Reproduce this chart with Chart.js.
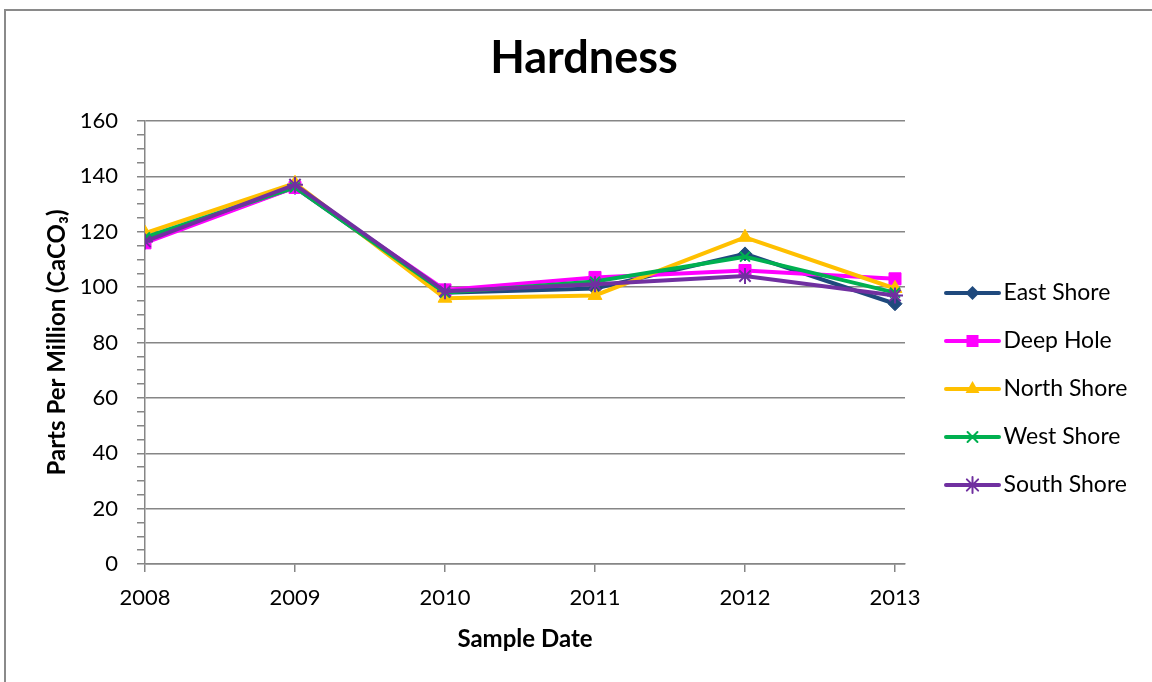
<!DOCTYPE html>
<html>
<head>
<meta charset="utf-8">
<title>Hardness</title>
<script src="https://cdn.jsdelivr.net/npm/chart.js@4.4.1/dist/chart.umd.min.js"></script>
<style>
  html, body { margin: 0; padding: 0; background: #ffffff; overflow: hidden; }
  #wrap { position: relative; width: 1152px; height: 682px; }
  #frame {
    position: absolute; left: 4px; top: 9px; width: 1300px; height: 800px;
    border-left: 2px solid #8a8a8a; border-top: 2px solid #8a8a8a;
    pointer-events: none;
  }
  canvas { display: block; }
</style>
</head>
<body>
<div id="wrap">
  <canvas id="chart" width="1152" height="682"></canvas>
  <div id="frame"></div>
</div>
<script>
// Sample years along the x axis
const years = ['2008', '2009', '2010', '2011', '2012', '2013'];

// Hardness readings, parts per million as CaCO3
const eastShore  = [117, 136, 98, 99.5, 112, 94];
const deepHole   = [116, 136, 99, 103.5, 106, 103];
const northShore = [119.5, 137.5, 96, 97, 118, 99.5];
const westShore  = [118, 136, 98, 102, 111, 98];
const southShore = [116.5, 137, 98.5, 101, 104, 97];

// Labelled y ticks and the minor tick step between them
const yMajorTicks = [0, 20, 40, 60, 80, 100, 120, 140, 160];
const yMinorStep = 5;

const FONT = 'Lato, "Open Sans", sans-serif';
const GRID = '#868686';
const LEGEND_FONT_SIZE = 23;
const LEGEND_PAD = 25;
const LEGEND_BOX = 62;

const series = [
  { label: 'East Shore',  data: eastShore,  color: '#1F497D', style: 'rectRot',  radius: 7 },
  { label: 'Deep Hole',   data: deepHole,   color: '#FF00FF', style: 'rect',     radius: 8.5 },
  { label: 'North Shore', data: northShore, color: '#FFC000', style: 'triangle', radius: 8 },
  { label: 'West Shore',  data: westShore,  color: '#00B050', style: 'crossRot', radius: 7 },
  { label: 'South Shore', data: southShore, color: '#7030A0', style: 'star',     radius: 8 }
];

// Marker path used for the legend icons
function drawMarker(ctx, style, x, y, r, color) {
  ctx.save();
  ctx.fillStyle = color;
  ctx.strokeStyle = color;
  ctx.lineWidth = 2;
  ctx.beginPath();
  if (style === 'rectRot') {
    ctx.moveTo(x, y - r); ctx.lineTo(x + r, y); ctx.lineTo(x, y + r); ctx.lineTo(x - r, y);
    ctx.closePath(); ctx.fill();
  } else if (style === 'rect') {
    const s = r * Math.SQRT1_2;
    ctx.rect(x - s, y - s, 2 * s, 2 * s); ctx.fill();
  } else if (style === 'triangle') {
    ctx.moveTo(x, y - r); ctx.lineTo(x + r * 0.87, y + r * 0.5); ctx.lineTo(x - r * 0.87, y + r * 0.5);
    ctx.closePath(); ctx.fill();
  } else if (style === 'crossRot') {
    const s = r * Math.SQRT1_2;
    ctx.moveTo(x - s, y - s); ctx.lineTo(x + s, y + s);
    ctx.moveTo(x + s, y - s); ctx.lineTo(x - s, y + s);
    ctx.stroke();
  } else if (style === 'star') {
    const s = r * Math.SQRT1_2;
    ctx.moveTo(x - s, y - s); ctx.lineTo(x + s, y + s);
    ctx.moveTo(x + s, y - s); ctx.lineTo(x - s, y + s);
    ctx.moveTo(x, y - r); ctx.lineTo(x, y + r);
    ctx.stroke();
  }
  ctx.restore();
}

// Legend icon: a short line segment with the series marker in its middle
function legendIcon(s) {
  const c = document.createElement('canvas');
  c.width = 80; c.height = 22;
  const ctx = c.getContext('2d');
  ctx.strokeStyle = s.color;
  ctx.lineWidth = 4;
  ctx.lineCap = 'round';
  ctx.beginPath();
  ctx.moveTo(25, 11); ctx.lineTo(78, 11);
  ctx.stroke();
  drawMarker(ctx, s.style, 51.5, 11, s.radius, s.color);
  return c;
}
const legendIcons = series.map(legendIcon);

// Room to the right so the plot ends where the legend column begins
const measure = document.createElement('canvas').getContext('2d');
measure.font = LEGEND_FONT_SIZE + 'px ' + FONT;
const maxLabelWidth = Math.max(...series.map(s => measure.measureText(s.label).width));
const legendWidth = LEGEND_PAD + LEGEND_BOX + LEGEND_FONT_SIZE / 2 + maxLabelWidth + 10;
const PLOT_LEFT = 145, PLOT_RIGHT = 905;
const padRight = Math.max(0, 1152 - PLOT_RIGHT - legendWidth);
const padLeft = 16 + padRight;

// The horizontal grid runs a little past the last sample year
const xOverhang = 1 / 15;

const yTicks = [];
for (let v = yMajorTicks[0]; v <= yMajorTicks[yMajorTicks.length - 1]; v += yMinorStep) yTicks.push(v);

const datasets = series.map((s, i) => ({
  label: s.label,
  data: s.data.map((v, k) => ({ x: k, y: v })),
  borderColor: s.color,
  backgroundColor: s.color,
  borderWidth: 4,
  pointStyle: s.style,
  pointRadius: s.radius,
  pointHoverRadius: s.radius,
  pointBorderWidth: (s.style === 'crossRot' || s.style === 'star') ? 2 : 1,
  pointBackgroundColor: s.color,
  pointBorderColor: s.color,
  tension: 0,
  fill: false,
  order: series.length - i
}));

new Chart(document.getElementById('chart'), {
  type: 'line',
  data: { datasets },
  options: {
    responsive: false,
    animation: false,
    devicePixelRatio: 1,
    layout: { padding: { left: padLeft, right: padRight, top: 0, bottom: 0 } },
    plugins: {
      tooltip: { enabled: false },
      title: {
        display: true,
        text: 'Hardness',
        color: '#000000',
        font: { family: FONT, size: 45, weight: 'bold', lineHeight: 1.2 },
        padding: { top: 31, bottom: 36 }
      },
      legend: {
        position: 'right',
        align: 'center',
        fullSize: false,
        title: { display: true, text: ' ', padding: 0, font: { size: 10, lineHeight: '93px' } },
        labels: {
          usePointStyle: true,
          pointStyleWidth: LEGEND_BOX,
          padding: LEGEND_PAD,
          color: '#000000',
          font: { family: FONT, size: LEGEND_FONT_SIZE },
          sort: (a, b) => a.datasetIndex - b.datasetIndex,
          generateLabels(chart) {
            const items = Chart.defaults.plugins.legend.labels.generateLabels(chart);
            items.forEach(it => { it.pointStyle = legendIcons[it.datasetIndex]; it.rotation = 0; });
            return items;
          }
        }
      }
    },
    scales: {
      x: {
        type: 'linear',
        min: 0,
        max: years.length - 1 + xOverhang,
        afterFit: s => { s.height = 118; },
        afterBuildTicks: s => { s.ticks = years.map((y, k) => ({ value: k })); },
        grid: { drawOnChartArea: false, drawTicks: true, tickLength: 8, color: GRID, tickColor: GRID, lineWidth: 1.5 },
        border: { display: true, color: GRID, width: 1.5 },
        ticks: {
          color: '#000000', font: { family: FONT, size: 22 }, padding: 13,
          maxRotation: 0, autoSkip: false,
          callback: v => years[v]
        },
        title: {
          display: true,
          text: 'Sample Date',
          color: '#000000',
          font: { family: FONT, size: 24, weight: 'bold', lineHeight: 1.2 },
          padding: { top: 0, bottom: 28 }
        }
      },
      y: {
        type: 'linear',
        min: yMajorTicks[0],
        max: yMajorTicks[yMajorTicks.length - 1],
        afterFit: s => { s.width = PLOT_LEFT - padLeft; },
        afterBuildTicks: s => { s.ticks = yTicks.map(v => ({ value: v })); },
        grid: {
          drawTicks: true,
          tickLength: 8,
          lineWidth: 1.5,
          color: c => (c.tick && yMajorTicks.includes(c.tick.value)) ? GRID : 'rgba(0,0,0,0)',
          tickColor: GRID
        },
        border: { display: true, color: GRID, width: 1.5 },
        ticks: {
          autoSkip: false,
          color: '#000000',
          font: { family: FONT, size: 22 },
          padding: 19,
          callback: v => yMajorTicks.includes(v) ? String(v) : ''
        },
        title: {
          display: true,
          text: 'Parts Per Million (CaCO₃)',
          color: '#000000',
          font: { family: FONT, size: 24, weight: 'bold', lineHeight: 1.2 },
          padding: { top: Math.max(0, 57 - padLeft - 14.4), bottom: 0 }
        }
      }
    }
  }
});
</script>
</body>
</html>
